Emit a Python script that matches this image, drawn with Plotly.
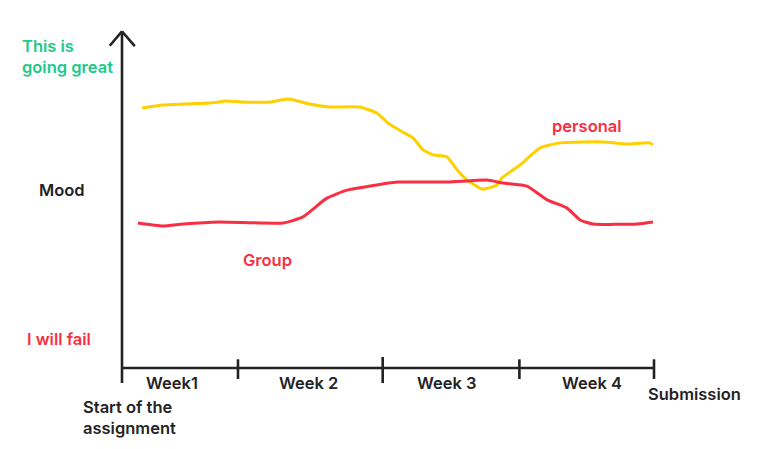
import plotly.graph_objects as go

# ---- data (x: progress 0..100 from start to submission, y: mood 0..100) ----
personal_x = [3.8, 7.7, 11.5, 16.5, 19.7, 22.7, 27.8, 31.2, 35.3, 39.1, 44.7, 47.9, 50.0,
              52.8, 54.7, 56.6, 58.5, 61.1, 63.0, 64.9, 67.7, 70.5, 71.4, 74.8, 76.3,
              78.6, 82.3, 90.4, 94.9, 99.2, 99.8]
personal_y = [77.3, 78.2, 78.5, 78.8, 79.4, 79.1, 79.1, 80.0, 78.5, 77.6, 77.6, 75.8, 72.8,
              70.1, 68.4, 64.8, 63.3, 62.7, 58.8, 55.8, 53.1, 54.3, 56.4, 60.3, 62.4,
              65.4, 66.9, 67.2, 66.6, 66.9, 66.3]

group_x = [3.0, 7.7, 11.5, 18.4, 30.3, 34.0, 38.5, 42.3, 46.6, 51.7, 61.1, 68.6, 71.6,
           76.1, 79.9, 83.6, 86.1, 88.5, 96.8, 99.8]
group_y = [43.0, 42.1, 42.7, 43.3, 43.0, 44.8, 50.4, 52.8, 54.0, 55.2, 55.2, 55.8, 54.9,
           54.0, 49.9, 47.5, 43.9, 42.7, 42.7, 43.3]

week_bounds = [0, 21.8, 49.0, 74.7, 100]
week_labels = ["Week1", "Week 2", "Week 3", "Week 4"]
week_label_x = [9.4, 35.1, 61.0, 88.3]

YELLOW = "#FFD000"
RED = "#FA2E43"
GREEN = "#1DC98A"
INK = "#232323"
FONT = "Inter"

fig = go.Figure()
fig.add_trace(go.Scatter(x=personal_x, y=personal_y, mode="lines",
                         line=dict(color=YELLOW, width=3, shape="spline", smoothing=0.5),
                         hoverinfo="skip"))
fig.add_trace(go.Scatter(x=group_x, y=group_y, mode="lines",
                         line=dict(color=RED, width=3, shape="spline", smoothing=0.5),
                         hoverinfo="skip"))

shapes = []
ax_line = dict(color=INK, width=2.6)
# vertical axis with arrow
shapes.append(dict(type="line", xref="x", yref="y", x0=0, x1=0, y0=-4.8, y1=99.6, line=ax_line))
shapes.append(dict(type="line", xref="x", yref="y", x0=-2.3, x1=0, y0=95.9, y1=100.2, line=ax_line))
shapes.append(dict(type="line", xref="x", yref="y", x0=2.4, x1=0, y0=95.8, y1=100.2, line=ax_line))
# horizontal axis
shapes.append(dict(type="line", xref="x", yref="y", x0=0, x1=week_bounds[-1], y0=-0.3, y1=-0.3, line=ax_line))
for i, b in enumerate(week_bounds[1:]):
    shapes.append(dict(type="line", xref="x", yref="y", x0=b, x1=b,
                       y0=2.3 if i != 1 else 3.0, y1=-3.6 if i != 1 else -4.8, line=ax_line))

annotations = []
def txt(text, x, y, color, xanchor="left", size=16.5):
    annotations.append(dict(text=text, x=x, y=y, xref="paper", yref="paper",
                            xanchor=xanchor, yanchor="middle", showarrow=False,
                            align="left",
                            font=dict(family=FONT, size=size, color=color, weight=600)))

W, H = 767, 449
txt("This is<br>going great", 20 / W, 1 - 56 / H, GREEN)
txt("Mood", 37 / W, 1 - 190 / H, INK)
txt("I will fail", 25 / W, 1 - 339 / H, RED)
txt("Group", 241 / W, 1 - 260 / H, RED)
txt("personal", 550 / W, 1 - 126 / H, RED)
txt("Submission", 646 / W, 1 - 394 / H, INK)
txt("Start of the<br>assignment", 81 / W, 1 - 417 / H, INK)

for lab, lx in zip(week_labels, week_label_x):
    annotations.append(dict(text=lab, x=lx, y=-4.8, xref="x", yref="y",
                            xanchor="center", yanchor="middle", showarrow=False,
                            font=dict(family=FONT, size=16.5, color=INK, weight=600)))

# axis ranges chosen so that the plot spans the whole canvas
x_min, x_max = -122 / 5.32, (767 - 122) / 5.32
y_min, y_max = -(449 - 367) / 3.35, 367 / 3.35

fig.update_layout(
    width=W, height=H,
    margin=dict(l=0, r=0, t=0, b=0),
    paper_bgcolor="white", plot_bgcolor="white",
    showlegend=False,
    xaxis=dict(range=[x_min, x_max], visible=False, fixedrange=True),
    yaxis=dict(range=[y_min, y_max], visible=False, fixedrange=True),
    shapes=shapes, annotations=annotations,
)

fig.write_html("out.html", config={"displayModeBar": False},
               post_script="document.body.style.margin='0';")
